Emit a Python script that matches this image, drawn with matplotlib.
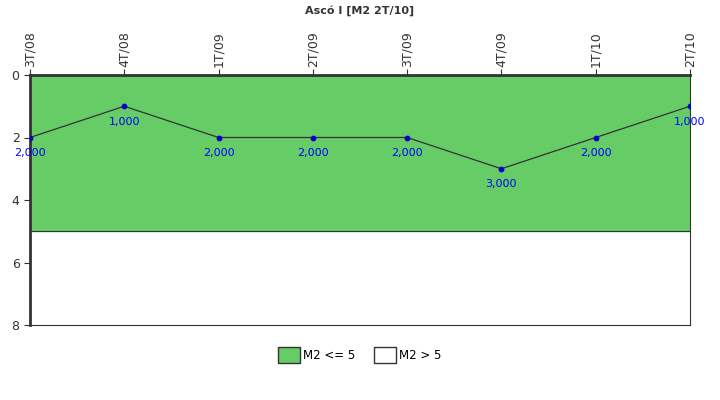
import matplotlib.pyplot as plt
from matplotlib.patches import Patch

periods = ["3T/08", "4T/08", "1T/09", "2T/09", "3T/09", "4T/09", "1T/10", "2T/10"]
values = [2, 1, 2, 2, 2, 3, 2, 1]
band_limit = 5
y_max = 8

fig = plt.figure(figsize=(7.2, 4), dpi=100)
ax = fig.add_axes([30 / 720, 1 - 325 / 400, 660 / 720, 250 / 400])

x = list(range(len(periods)))
ax.axhspan(0, band_limit, color="#66cc66", zorder=0)
ax.axhline(band_limit, color="#333333", lw=0.8, zorder=1)
ax.plot(x, values, color="#333333", lw=0.9, zorder=2)
ax.scatter(x, values, color="#0000cc", s=10, zorder=3)
for xi, v in zip(x, values):
    ax.text(xi, v + 0.5, f"{v:,.3f}".replace(".", ","), color="#0000ff",
            ha="center", va="center", fontsize=8, zorder=4)

ax.set_xlim(0, len(periods) - 1)
ax.set_ylim(y_max, 0)
ax.set_yticks([0, 2, 4, 6, 8])
ax.set_xticks(x)
ax.set_xticklabels(periods, rotation=90, fontsize=9, color="#333333")
ax.xaxis.tick_top()
ax.tick_params(axis="y", labelsize=9, colors="#333333", length=4)
ax.tick_params(axis="x", length=4, colors="#333333", pad=2)

ax.spines["top"].set_linewidth(2)
ax.spines["left"].set_linewidth(2)
ax.spines["right"].set_linewidth(0.8)
ax.spines["bottom"].set_linewidth(0.8)
for s in ax.spines.values():
    s.set_color("#333333")

fig.text(0.5, 1 - 11 / 400, "Ascó I [M2 2T/10]", ha="center", va="center",
         fontsize=8, fontweight="bold", color="#333333")

handles = [Patch(facecolor="#66cc66", edgecolor="#333333", label="M2 <= 5"),
           Patch(facecolor="white", edgecolor="#333333", label="M2 > 5")]
fig.legend(handles=handles, loc="center", bbox_to_anchor=(0.5, 1 - 355 / 400),
           ncol=2, frameon=False, fontsize=8.5, handlelength=1.8, handleheight=1.8,
           columnspacing=1.6, handletextpad=0.3)

fig.savefig("out.png", dpi=100)
